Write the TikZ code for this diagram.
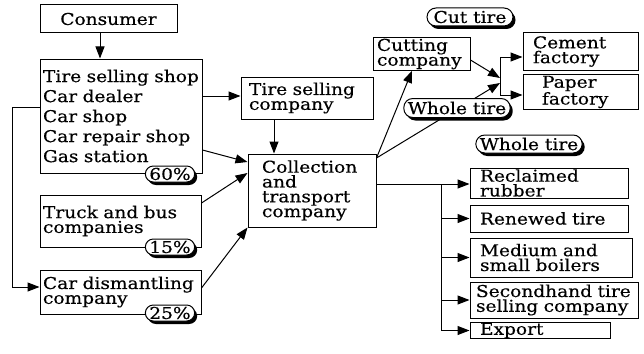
\documentclass[tikz,border=0pt]{standalone}
\usepackage{fontspec}
\setmainfont[FakeStretch=1.14,FakeBold=0.4]{DejaVu Serif}
\usetikzlibrary{arrows.meta,shadows,calc}
\begin{document}
\begin{tikzpicture}[x=1pt,y=-1pt,
  every node/.style={font=\fontsize{16.3}{14.8}\selectfont},
  box/.style={draw, line width=1pt, inner ysep=1pt, align=left},
  arr/.style={-{Triangle[length=12pt,width=9pt]}, line width=1pt},
  conn/.style={line width=1pt},
  badge/.style={draw, fill=white, line width=1pt, rounded corners=8pt,
    minimum height=16pt, inner xsep=4pt, inner ysep=0pt,
    drop shadow={shadow xshift=2.5pt, shadow yshift=-3pt, fill=black, opacity=1}}
]
\useasboundingbox (0,0) rectangle (644,353);

% boxes
\node[box, align=center, inner xsep=3pt, text width=131pt, minimum height=28pt] (consumer) at (108.5,19) {Consumer};
\node[box, inner xsep=3pt, text width=156pt, minimum height=114pt, font=\fontsize{16.3}{20}\selectfont] (shops) at (121,116)
  {Tire selling shop\\Car dealer\\Car shop\\Car repair shop\\Gas station};
\node[box, inner xsep=3pt, text width=155pt, minimum height=52pt] (truck) at (120.5,221) {Truck and bus\\companies};
\node[box, inner xsep=3pt, text width=155pt, minimum height=44pt] (dismantle) at (120.5,292) {Car dismantling\\company};
\node[box, inner xsep=8pt, text width=116pt, minimum height=42pt] (tiresell) at (307,98) {Tire selling\\company};
\node[box, inner xsep=14pt, text width=100pt, minimum height=73pt] (collect) at (312,190.5) {Collection\\and\\transport\\company};
\node[box, inner xsep=4pt, text width=89pt, minimum height=32pt] (cutting) at (421.5,54) {Cutting\\company};
\node[box, inner xsep=10pt, text width=95pt, minimum height=37pt] (cement) at (580.5,51.5) {Cement\\factory};
\node[box, inner xsep=19pt, text width=77pt, minimum height=30pt] (paper) at (580.5,92) {Paper\\factory};
\node[box, inner xsep=10pt, text width=138pt, minimum height=30pt] (reclaimed) at (549,183) {Reclaimed\\rubber};
\node[box, inner xsep=10pt, text width=138pt, minimum height=27pt] (renewed) at (549,218.5) {Renewed tire};
\node[box, inner xsep=10pt, text width=142pt, minimum height=39pt] (medium) at (551,257.5) {Medium and\\small boilers};
\node[box, inner xsep=6pt, text width=156pt, minimum height=36pt] (secondhand) at (554,300) {Secondhand tire\\selling company};
\node[box, inner xsep=10pt, inner ysep=0pt, text width=120pt, minimum height=15pt] (export) at (540,330.5) {Export};

% connectors, left part
\draw[arr] (consumer.south -| 100,0) -- (shops.north -| 100,0);
\draw[arr] (shops.west |- 0,107) -- ++(-27,0) |- (dismantle.west |- 0,287);
\draw[arr] (shops.east |- 0,96) -- (tiresell.west |- 0,96);
\draw[arr] (tiresell.south -| 274,0) -- (collect.north -| 274,0);
\draw[arr] (shops.east |- 0,150) -- (collect.west |- 0,162);
\draw[arr] (truck.east |- 0,203) -- (collect.west |- 0,173);
\draw[arr] (dismantle.east |- 0,288) -- (collect.south west);

% connectors, upper right
\coordinate (c1) at (collect.east |- 0,158);
\coordinate (j1) at (500,57);
\coordinate (j2) at (500,95);
\coordinate (ja) at (500,78);
\coordinate (jb) at (500,83);
\draw[arr] (c1) -- (cutting.south -| 412,0);
\draw[arr] (c1) -- (jb);
\draw[arr] (cutting.east |- 0,60) -- (ja);
\draw[conn] (j1) -- (j2);
\draw[arr] (j1) -- (cement.west |- j1);
\draw[arr] (j2) -- (paper.west |- j2);

% connectors, lower right
\coordinate (t0) at (441,184);
\draw[arr] (collect.east |- t0) -- (reclaimed.west |- t0);
\draw[arr] (renewed.west -| t0) -- (renewed.west);
\draw[arr] (medium.west -| t0) -- (medium.west);
\draw[arr] (secondhand.west -| t0) -- (secondhand.west);
\draw[arr] (t0) |- (export.west);

% badges
\node[badge, minimum width=46pt] (p60) at (170,174) {60\%};
\node[badge, minimum width=46pt] (p15) at (170,247) {15\%};
\node[badge, minimum width=46pt] (p25) at (170,313) {25\%};
\node[badge, minimum width=86pt, minimum height=18pt, rounded corners=9pt] (cuttire) at (470,17) {Cut tire};
\node[badge, minimum width=105pt, minimum height=19pt, rounded corners=9pt] (whole1) at (457,108) {Whole tire};
\node[badge, minimum width=105pt, minimum height=18pt, rounded corners=9pt] (whole2) at (529,144) {Whole tire};
\end{tikzpicture}
\end{document}
